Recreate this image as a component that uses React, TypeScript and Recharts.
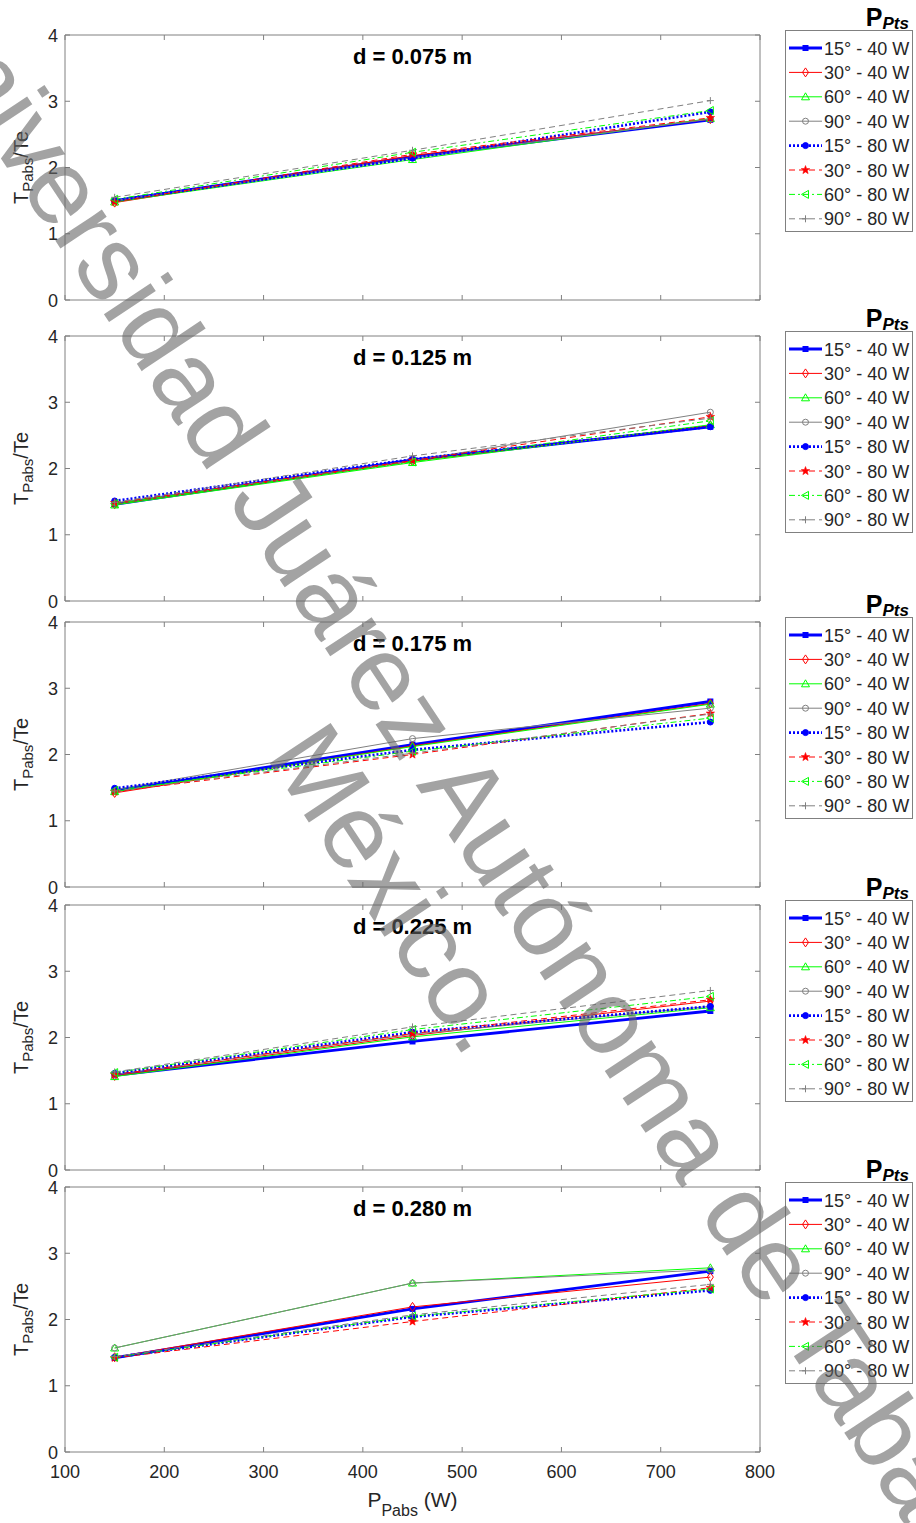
import React from 'react';
import { LineChart, Line, XAxis, YAxis, ReferenceArea } from 'recharts';

const powers = [150, 450, 750];
const xTicks = [100, 200, 300, 400, 500, 600, 700, 800];
const yTicks = [0, 1, 2, 3, 4];
const seriesNames = ['15° - 40 W', '30° - 40 W', '60° - 40 W', '90° - 40 W', '15° - 80 W', '30° - 80 W', '60° - 80 W', '90° - 80 W'];
const panelTitles = ['d = 0.075 m', 'd = 0.125 m', 'd = 0.175 m', 'd = 0.225 m', 'd = 0.280 m'];

// T_Pabs/Te for each series, at P_Pabs = 150, 450, 750 W
const ratio075 = [
  [1.50, 2.16, 2.72],
  [1.47, 2.18, 2.73],
  [1.48, 2.12, 2.74],
  [1.50, 2.15, 2.73],
  [1.50, 2.14, 2.84],
  [1.48, 2.20, 2.75],
  [1.52, 2.23, 2.86],
  [1.55, 2.26, 3.01],
];
const ratio125 = [
  [1.46, 2.13, 2.63],
  [1.46, 2.11, 2.65],
  [1.45, 2.09, 2.66],
  [1.48, 2.12, 2.85],
  [1.51, 2.14, 2.63],
  [1.48, 2.12, 2.78],
  [1.47, 2.10, 2.72],
  [1.49, 2.19, 2.76],
];
const ratio175 = [
  [1.45, 2.15, 2.80],
  [1.42, 2.13, 2.77],
  [1.44, 2.12, 2.76],
  [1.47, 2.24, 2.70],
  [1.49, 2.07, 2.49],
  [1.44, 2.00, 2.62],
  [1.46, 2.05, 2.55],
  [1.45, 2.02, 2.61],
];
const ratio225 = [
  [1.43, 1.94, 2.40],
  [1.42, 2.03, 2.55],
  [1.41, 2.01, 2.45],
  [1.44, 2.05, 2.47],
  [1.46, 2.08, 2.47],
  [1.44, 2.06, 2.57],
  [1.47, 2.12, 2.62],
  [1.48, 2.16, 2.71],
];
const ratio280 = [
  [1.42, 2.16, 2.73],
  [1.43, 2.19, 2.64],
  [1.57, 2.55, 2.78],
  [1.57, 2.55, 2.75],
  [1.43, 2.04, 2.44],
  [1.42, 1.97, 2.48],
  [1.43, 2.05, 2.46],
  [1.44, 2.07, 2.53],
];
const panels = [ratio075, ratio125, ratio175, ratio225, ratio280];

const FONT = '"Liberation Sans", Arial, Helvetica, sans-serif';
const TXT = '#262626';
const BOX = '#808080';

// layout
const PLOT_TOPS = [35, 336, 622, 905, 1187];
const PLOT_H = 265;
const M_TOP = 30;
const PLOT_L = 65;
const PLOT_R = 760;

type Marker = 'square' | 'diamond' | 'triangle' | 'circle' | 'dot' | 'star' | 'left' | 'plus';
const styles: { color: string; width: number; dash?: string; marker: Marker }[] = [
  { color: '#0000ff', width: 2.8, marker: 'square' },
  { color: '#ff0000', width: 1, marker: 'diamond' },
  { color: '#00ff00', width: 1, marker: 'triangle' },
  { color: '#808080', width: 1, marker: 'circle' },
  { color: '#0000ff', width: 2.6, dash: '2 2', marker: 'dot' },
  { color: '#ff0000', width: 1, dash: '6 4', marker: 'star' },
  { color: '#00ff00', width: 1, dash: '6 3 2 3', marker: 'left' },
  { color: '#808080', width: 1, dash: '6 4', marker: 'plus' },
];

function starPoints(cx: number, cy: number, ro: number, ri: number) {
  const pts: string[] = [];
  for (let i = 0; i < 10; i++) {
    const r = i % 2 === 0 ? ro : ri;
    const a = -Math.PI / 2 + (i * Math.PI) / 5;
    pts.push(`${cx + r * Math.cos(a)},${cy + r * Math.sin(a)}`);
  }
  return pts.join(' ');
}

function MarkerShape({ kind, cx, cy, color }: { kind: Marker; cx: number; cy: number; color: string }) {
  switch (kind) {
    case 'square':
      return <rect x={cx - 2.5} y={cy - 2.5} width={5} height={5} fill={color} stroke={color} />;
    case 'diamond':
      return <polygon points={`${cx},${cy - 4.5} ${cx + 3},${cy} ${cx},${cy + 4.5} ${cx - 3},${cy}`} fill="none" stroke={color} />;
    case 'triangle':
      return <polygon points={`${cx},${cy - 4} ${cx + 4},${cy + 3} ${cx - 4},${cy + 3}`} fill="none" stroke={color} />;
    case 'circle':
      return <circle cx={cx} cy={cy} r={3} fill="none" stroke={color} />;
    case 'dot':
      return <circle cx={cx} cy={cy} r={3} fill={color} stroke={color} />;
    case 'star':
      return <polygon points={starPoints(cx, cy, 4.5, 1.9)} fill={color} stroke={color} strokeWidth={0.5} />;
    case 'left':
      return <polygon points={`${cx - 4},${cy} ${cx + 3},${cy - 4} ${cx + 3},${cy + 4}`} fill="none" stroke={color} />;
    case 'plus':
      return (
        <g stroke={color}>
          <line x1={cx - 3.5} x2={cx + 3.5} y1={cy} y2={cy} />
          <line x1={cx} x2={cx} y1={cy - 3.5} y2={cy + 3.5} />
        </g>
      );
  }
  return null;
}

function Panel({ index }: { index: number }) {
  const values = panels[index];
  const rows = powers.map((p, i) => {
    const r: Record<string, number> = { p };
    values.forEach((s, k) => {
      r['s' + k] = s[i];
    });
    return r;
  });
  const last = index === panels.length - 1;
  const bottom = M_TOP + PLOT_H;
  const height = last ? bottom + 40 : bottom + 15;

  const xTick = (props: any) => {
    const { x, payload } = props;
    return (
      <g>
        <line x1={x} x2={x} y1={bottom} y2={bottom - 5} stroke={BOX} />
        <line x1={x} x2={x} y1={M_TOP} y2={M_TOP + 5} stroke={BOX} />
        {last && (
          <text x={x} y={bottom + 26} textAnchor="middle" fontFamily={FONT} fontSize={18} fill={TXT}>
            {payload.value}
          </text>
        )}
      </g>
    );
  };

  const yTick = (props: any) => {
    const { y, payload } = props;
    return (
      <g>
        <line x1={PLOT_L} x2={PLOT_L + 5} y1={y} y2={y} stroke={BOX} />
        <line x1={PLOT_R} x2={PLOT_R - 5} y1={y} y2={y} stroke={BOX} />
        <text x={PLOT_L - 7} y={y + 6.5} textAnchor="end" fontFamily={FONT} fontSize={18} fill={TXT}>
          {payload.value}
        </text>
      </g>
    );
  };

  return (
    <div style={{ position: 'absolute', left: 0, top: PLOT_TOPS[index] - M_TOP }}>
      <LineChart
        width={916}
        height={height}
        data={rows}
        margin={{ top: M_TOP, right: 916 - PLOT_R, left: PLOT_L - 40, bottom: 0 }}
      >
        <XAxis
          dataKey="p"
          type="number"
          domain={[100, 800]}
          ticks={xTicks}
          interval={0}
          tick={xTick}
          tickLine={false}
          axisLine={false}
          height={height - bottom}
        />
        <YAxis
          type="number"
          domain={[0, 4]}
          ticks={yTicks}
          interval={0}
          tick={yTick}
          tickLine={false}
          axisLine={false}
          width={40}
        />
        <ReferenceArea x1={100} x2={800} y1={0} y2={4} fill="none" stroke={BOX} strokeWidth={1} ifOverflow="visible" />
        {styles.map((st, k) => (
          <Line
            key={k}
            type="linear"
            dataKey={'s' + k}
            name={seriesNames[k]}
            stroke={st.color}
            strokeWidth={st.width}
            strokeDasharray={st.dash}
            isAnimationActive={false}
            activeDot={false}
            dot={(props: any) => (
              <MarkerShape key={props.key ?? `${k}-${props.index}`} kind={st.marker} cx={props.cx} cy={props.cy} color={st.color} />
            )}
          />
        ))}
      </LineChart>
    </div>
  );
}

function Annotations() {
  const rowH = 24.4;
  const lastBottom = PLOT_TOPS[PLOT_TOPS.length - 1] + PLOT_H;
  return (
    <svg width={916} height={1523} style={{ position: 'absolute', left: 0, top: 0, pointerEvents: 'none' }}>
      {PLOT_TOPS.map((pt, i) => {
        const boxTop = pt - 5;
        const mid = pt + PLOT_H / 2;
        return (
          <g key={i}>
            <text x={(PLOT_L + PLOT_R) / 2} y={pt + 29} textAnchor="middle" fontFamily={FONT} fontSize={22} fontWeight="bold" fill="#000">
              {panelTitles[i]}
            </text>
            <text x={28} y={mid} transform={`rotate(-90 28 ${mid})`} textAnchor="middle" fontFamily={FONT} fontSize={20} fill={TXT}>
              <tspan>T</tspan>
              <tspan fontSize={15} dy={5}>Pabs</tspan>
              <tspan dy={-5}>/Te</tspan>
            </text>
            <text x={909} y={boxTop - 4} textAnchor="end" fontFamily={FONT} fill="#000" fontWeight="bold">
              <tspan fontSize={25}>P</tspan>
              <tspan fontSize={17} fontStyle="italic" dy={3}>Pts</tspan>
            </text>
            <rect x={785.5} y={boxTop + 0.5} width={127} height={201} fill="#fff" stroke={BOX} />
            {seriesNames.map((nm, k) => {
              const cy = boxTop + 18 + k * rowH;
              const st = styles[k];
              return (
                <g key={k}>
                  <line x1={789} x2={822} y1={cy} y2={cy} stroke={st.color} strokeWidth={st.width} strokeDasharray={st.dash} />
                  <MarkerShape kind={st.marker} cx={805.5} cy={cy} color={st.color} />
                  <text x={824} y={cy + 6.5} fontFamily={FONT} fontSize={18} fill={TXT}>
                    {nm}
                  </text>
                </g>
              );
            })}
          </g>
        );
      })}
      <text x={(PLOT_L + PLOT_R) / 2} y={lastBottom + 55} textAnchor="middle" fontFamily={FONT} fontSize={21} fill={TXT}>
        <tspan>P</tspan>
        <tspan fontSize={16} dy={9}>Pabs</tspan>
        <tspan dy={-9}> (W)</tspan>
      </text>
    </svg>
  );
}

function Watermark() {
  const a = 56.5;
  const s1 = { x: -98.4, y: 8.5 };
  const s2 = { x: 265, y: 756 };
  return (
    <svg width={916} height={1523} style={{ position: 'absolute', left: 0, top: 0, pointerEvents: 'none' }}>
      <g fontFamily={FONT} fontSize={106} fill="#666" fillOpacity={0.6}>
        <text x={s1.x} y={s1.y} transform={`rotate(${a} ${s1.x} ${s1.y})`}>
          Universidad Juárez Autónoma de Tabasco.
        </text>
        <text x={s2.x} y={s2.y} transform={`rotate(${a} ${s2.x} ${s2.y})`}>
          México.
        </text>
      </g>
    </svg>
  );
}

export default function App() {
  return (
    <div style={{ position: 'absolute', left: 0, top: 0, width: 916, height: 1523, background: '#fff', overflow: 'hidden' }}>
      {panels.map((_, i) => (
        <Panel key={i} index={i} />
      ))}
      <Annotations />
      <Watermark />
    </div>
  );
}
